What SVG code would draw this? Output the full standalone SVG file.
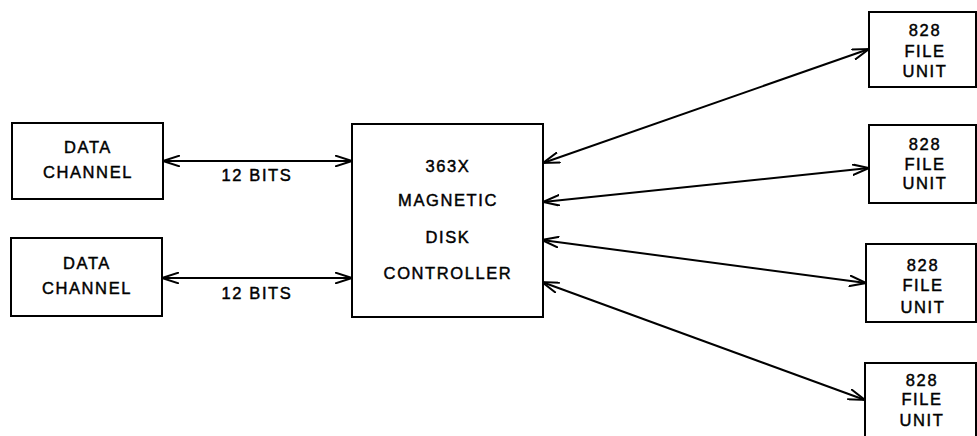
<svg xmlns="http://www.w3.org/2000/svg" width="977" height="436" viewBox="0 0 977 436">
<style>
.box{fill:#fff;stroke:#000;stroke-width:2}
.lbl{font-family:"Liberation Sans",Arial,sans-serif;font-size:16.5px;letter-spacing:1.6px;text-anchor:middle;dominant-baseline:central;fill:#000;stroke:#000;stroke-width:0.45px}
.con{stroke:#000;stroke-width:2;fill:none;marker-start:url(#ah);marker-end:url(#ah)}
</style>
<defs>
<marker id="ah" viewBox="0 0 18 12" refX="17" refY="6" markerWidth="18" markerHeight="12" markerUnits="userSpaceOnUse" orient="auto-start-reverse">
<path d="M0,0.5 L17,6 L0,11.5" fill="none" stroke="#000" stroke-width="2"/>
</marker>
</defs>
<rect width="977" height="436" fill="#fff"/>
<g id="connectors">
<line class="con" x1="163" y1="161" x2="352" y2="161"/>
<line class="con" x1="162" y1="278" x2="352" y2="278"/>
<line class="con" x1="543" y1="163" x2="869" y2="49"/>
<line class="con" x1="543" y1="202" x2="869" y2="168"/>
<line class="con" x1="542" y1="240" x2="866" y2="283"/>
<line class="con" x1="542" y1="282" x2="865" y2="400"/>
<text class="lbl" x="257" y="175">12 BITS</text>
<text class="lbl" x="257" y="293">12 BITS</text>
</g>
<g id="dc1">
<rect class="box" x="12" y="123" width="151" height="76"/>
<text class="lbl" x="88" y="147">DATA</text>
<text class="lbl" x="88" y="172">CHANNEL</text>
</g>
<g id="dc2">
<rect class="box" x="11" y="238" width="151" height="78"/>
<text class="lbl" x="87" y="263">DATA</text>
<text class="lbl" x="87" y="288">CHANNEL</text>
</g>
<g id="controller">
<rect class="box" x="352" y="124" width="191" height="193"/>
<text class="lbl" x="448" y="166">363X</text>
<text class="lbl" x="448" y="200">MAGNETIC</text>
<text class="lbl" x="448" y="237">DISK</text>
<text class="lbl" x="448" y="273">CONTROLLER</text>
</g>
<g id="fu1">
<rect class="box" x="869" y="12" width="107" height="75"/>
<text class="lbl" x="925" y="30">828</text>
<text class="lbl" x="925" y="51">FILE</text>
<text class="lbl" x="925" y="71">UNIT</text>
</g>
<g id="fu2">
<rect class="box" x="869" y="125" width="107" height="78"/>
<text class="lbl" x="925" y="144">828</text>
<text class="lbl" x="925" y="164">FILE</text>
<text class="lbl" x="925" y="183">UNIT</text>
</g>
<g id="fu3">
<rect class="box" x="866" y="244" width="110" height="78"/>
<text class="lbl" x="923" y="265">828</text>
<text class="lbl" x="923" y="285">FILE</text>
<text class="lbl" x="923" y="307">UNIT</text>
</g>
<g id="fu4">
<rect class="box" x="865" y="363" width="111" height="80"/>
<text class="lbl" x="922" y="380">828</text>
<text class="lbl" x="922" y="399">FILE</text>
<text class="lbl" x="922" y="420">UNIT</text>
</g>
</svg>
